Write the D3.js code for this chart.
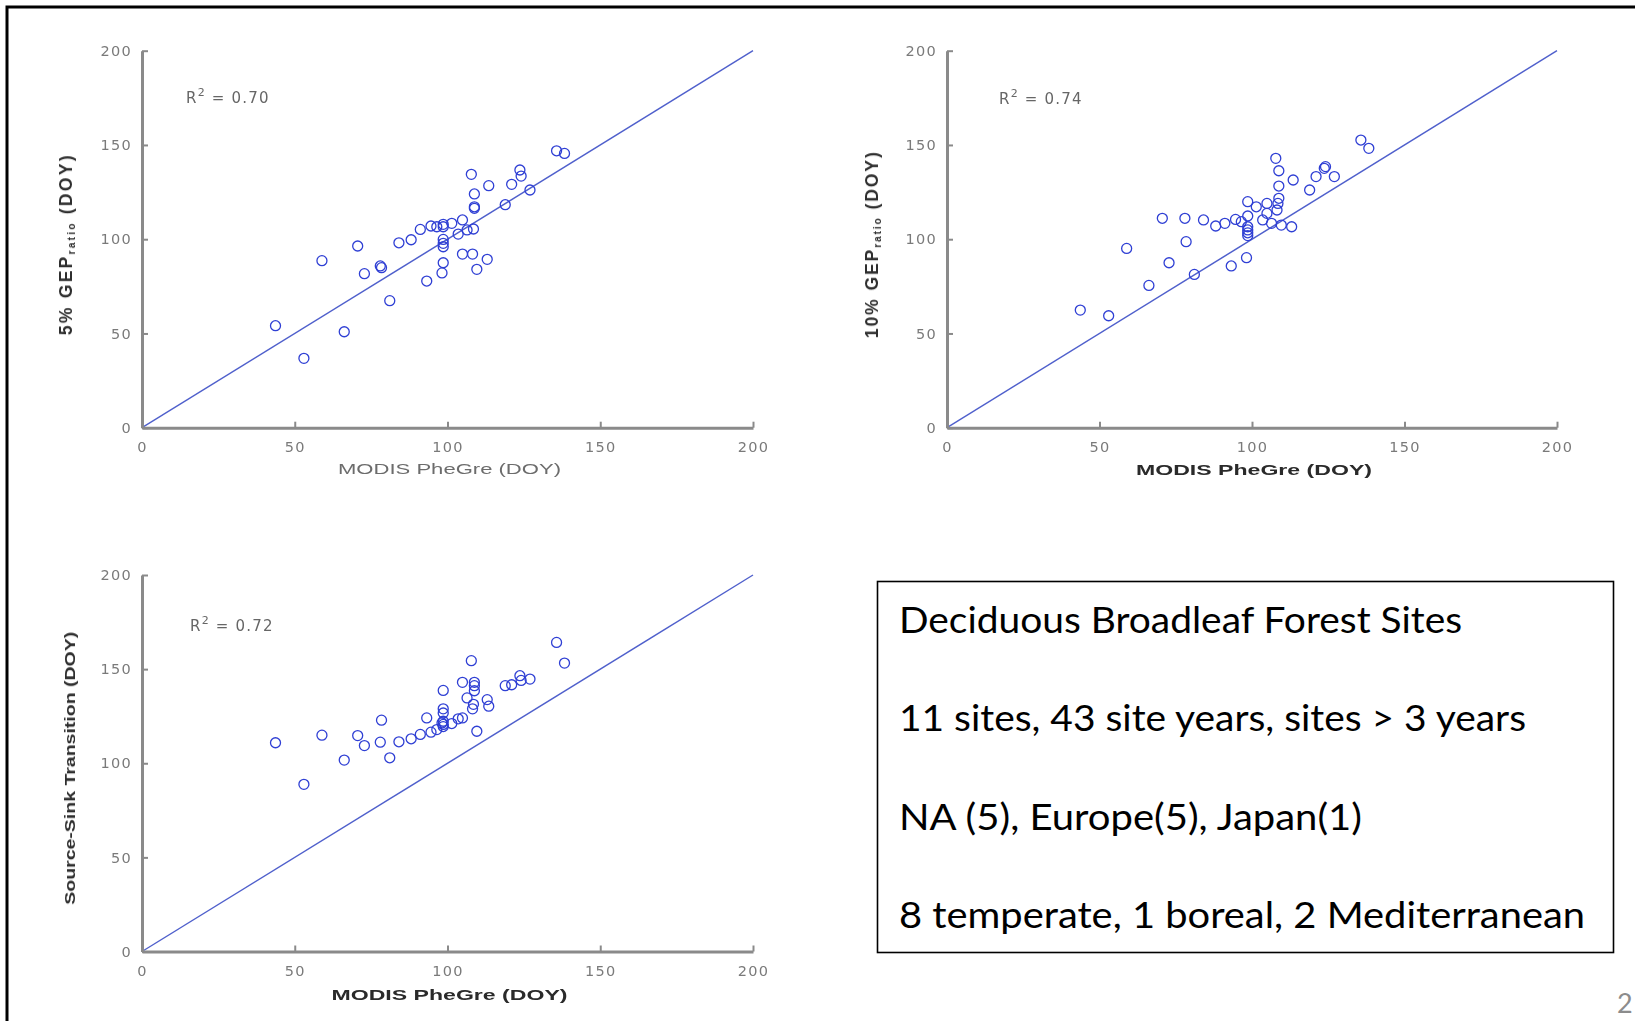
<!DOCTYPE html>
<html>
<head>
<meta charset="utf-8">
<script src="https://cdn.jsdelivr.net/npm/d3@7"></script>
<style>
  body { margin: 0; background: #ffffff; }
  svg { display: block; }
</style>
</head>
<body>
<svg id="fig" width="1635" height="1021"></svg>
<script>
// MODIS green-up date for each of the 43 site-years (day of year)
const modisDoy = [43.7, 53.0, 58.9, 66.2, 70.6, 72.8, 78.0, 78.4, 81.1, 84.1, 88.1, 91.1, 93.2, 94.6, 96.5, 98.2,
  98.6, 98.6, 98.6, 98.6, 98.6, 98.6, 101.4, 103.5, 104.9, 104.9, 106.4, 107.8, 108.2, 108.5, 108.8, 108.8, 108.8,
  109.6, 113.0, 113.5, 118.9, 121.0, 123.7, 124.1, 127.0, 135.7, 138.3];

// Flux-tower derived spring onset, same site-year order
const gep5Doy = [54.1, 36.8, 88.6, 50.9, 96.4, 81.7, 85.8, 84.9, 67.4, 98.1, 99.7, 105.2, 77.8, 107.0, 106.6, 82.1,
  106.6, 107.9, 99.9, 97.8, 96.0, 87.5, 108.4, 102.7, 110.2, 92.1, 104.9, 134.4, 92.1, 105.4, 124.0, 117.2, 116.4,
  84.0, 89.3, 128.4, 118.3, 129.1, 136.7, 133.5, 126.1, 146.9, 145.5];

const gep10Doy = [62.4, 59.4, 95.1, 75.5, 111.1, 87.5, 111.1, 98.7, 81.3, 110.2, 107.0, 108.4, 85.8, 110.5, 109.3, 90.2,
  106.6, 103.4, 101.9, 104.9, 119.9, 112.3, 117.2, 110.2, 119.0, 113.7, 108.4, 142.9, 115.5, 119.0, 136.3, 128.2, 121.7,
  107.5, 106.6, 131.4, 126.1, 133.2, 137.6, 138.5, 133.2, 152.6, 148.2];

const sinkDoy = [110.9, 88.8, 114.9, 101.7, 114.7, 109.4, 111.2, 122.9, 102.9, 111.4, 113.0, 115.3, 124.1, 116.5, 117.9, 121.4,
  128.9, 126.7, 122.3, 120.6, 138.7, 119.5, 121.1, 123.6, 143.0, 124.1, 134.7, 154.5, 128.9, 131.3, 143.0, 141.2, 138.5,
  117.0, 133.8, 130.3, 141.2, 141.7, 146.5, 144.0, 144.7, 164.2, 153.2];

const r2Values = ["0.70", "0.74", "0.72"];
const axisTicks = [0, 50, 100, 150, 200];
const xTitle = "MODIS PheGre (DOY)";

const infoLines = [
  "Deciduous Broadleaf Forest Sites",
  "11 sites, 43 site years, sites > 3 years",
  "NA (5), Europe(5), Japan(1)",
  "8 temperate, 1 boreal, 2 Mediterranean"
];

const svg = d3.select("#fig");

// slight softening used for the raster-looking plot panels
const defs = svg.append("defs");
defs.append("filter").attr("id", "soft")
  .attr("x", "-5%").attr("y", "-5%").attr("width", "110%").attr("height", "110%")
  .append("feGaussianBlur").attr("stdDeviation", 0.6);

// slide frame
svg.append("path")
  .attr("d", "M7,1030 V7 H1645")
  .attr("fill", "none").attr("stroke", "#000").attr("stroke-width", 3);

const panels = [
  { y: gep5Doy, r2: r2Values[0], left: 142, right: 753, top: 50.7, bottom: 427.7,
    yLabel: ["5% GEP", "ratio", " (DOY)"], yLabelX: 67, yLabelLen: 182, xBold: false, xLabelY: 470,
    r2x: 186, r2y: 103 },
  { y: gep10Doy, r2: r2Values[1], left: 947, right: 1557, top: 50.7, bottom: 427.7,
    yLabel: ["10% GEP", "ratio", " (DOY)"], yLabelX: 873, yLabelLen: 188, xBold: true, xLabelY: 471,
    r2x: 999, r2y: 104 },
  { y: sinkDoy, r2: r2Values[2], left: 142, right: 753, top: 575, bottom: 951.5,
    yLabel: ["Source-Sink Transition (DOY)"], yLabelX: 71, yLabelLen: 273, xBold: true, xLabelY: 996,
    r2x: 190, r2y: 631 }
];

const axisColor = "#8a8a8a";
const tickTextColor = "#7a7a7a";
const markBlue = "#2f3fd4";

panels.forEach(p => {
  const g = svg.append("g").attr("filter", "url(#soft)");
  const x = d3.scaleLinear().domain([0, 200]).range([p.left, p.right]);
  const y = d3.scaleLinear().domain([0, 200]).range([p.bottom, p.top]);

  // 1:1 line
  g.append("line")
    .attr("x1", x(0)).attr("y1", y(0)).attr("x2", x(200)).attr("y2", y(200))
    .attr("stroke", "#5060cc").attr("stroke-width", 1.4);

  // axes with inward ticks
  const gx = g.append("g").attr("transform", `translate(0,${y(0)})`)
    .call(d3.axisBottom(x).tickValues(axisTicks).tickSizeInner(-6).tickSizeOuter(0).tickPadding(11));
  const gy = g.append("g").attr("transform", `translate(${x(0)},0)`)
    .call(d3.axisLeft(y).tickValues(axisTicks).tickSizeInner(-6).tickSizeOuter(0).tickPadding(10));
  [gx, gy].forEach(a => {
    a.select(".domain").attr("stroke", axisColor).attr("stroke-width", 3);
    a.selectAll(".tick line").attr("stroke", axisColor).attr("stroke-width", 2);
    a.selectAll(".tick text")
      .attr("fill", tickTextColor)
      .style("font-family", "'DejaVu Sans', sans-serif")
      .style("font-size", "14.5px")
      .style("letter-spacing", "1.3px");
  });
  gx.selectAll(".tick text").attr("dy", "0.9em");

  // site-year markers
  g.append("g").selectAll("circle")
    .data(modisDoy.map((d, i) => [d, p.y[i]]))
    .join("circle")
    .attr("cx", d => x(d[0])).attr("cy", d => y(d[1]))
    .attr("r", 5)
    .attr("fill", "none").attr("stroke", markBlue).attr("stroke-width", 1.3);

  // R² annotation
  const r2 = g.append("text")
    .attr("x", p.r2x).attr("y", p.r2y)
    .attr("fill", "#666")
    .style("font-family", "'DejaVu Sans', sans-serif")
    .style("font-size", "15px")
    .style("letter-spacing", "1.2px");
  r2.append("tspan").text("R");
  r2.append("tspan").attr("dy", -7).style("font-size", "11px").text("2");
  r2.append("tspan").attr("dy", 7).text(" = " + p.r2);

  // x axis title
  g.append("text")
    .attr("x", (p.left + p.right) / 2 + 2).attr("y", p.xLabelY)
    .attr("text-anchor", "middle").attr("dominant-baseline", "middle")
    .attr("textLength", p.xBold ? 236 : 223).attr("lengthAdjust", "spacingAndGlyphs")
    .attr("fill", p.xBold ? "#2a2a2a" : "#6c6c6c")
    .style("font-family", "'Liberation Sans', Arial, sans-serif")
    .style("font-size", "15.5px")
    .style("font-weight", p.xBold ? "bold" : "normal")
    .text(xTitle);

  // y axis title (rotated)
  const cy = (p.top + p.bottom) / 2 + 5;
  const yt = g.append("text")
    .attr("transform", `translate(${p.yLabelX},${cy}) rotate(-90)`)
    .attr("text-anchor", "middle").attr("dominant-baseline", "middle")
    .attr("fill", "#2e2e2e")
    .style("font-family", "'Liberation Sans', Arial, sans-serif")
    .style("font-size", p.yLabel.length > 1 ? "17.5px" : "15.5px")
    .style("font-weight", "bold");
  yt.append("tspan").text(p.yLabel[0]);
  if (p.yLabel.length > 1) {
    yt.append("tspan").attr("dy", 5).style("font-size", "10px").text(p.yLabel[1]);
    yt.append("tspan").attr("dy", -5).text(p.yLabel[2]);
  }
  const len = yt.node().getComputedTextLength();
  if (p.yLabel.length === 1) {
    yt.attr("textLength", p.yLabelLen).attr("lengthAdjust", "spacingAndGlyphs");
  } else {
    const sp = Math.max(0, (p.yLabelLen - len) / (p.yLabel.join("").length));
    yt.style("letter-spacing", sp + "px");
  }
});

// information box
const box = svg.append("g");
box.append("rect")
  .attr("x", 877.5).attr("y", 581.5).attr("width", 736).attr("height", 371)
  .attr("fill", "#fff").attr("stroke", "#000").attr("stroke-width", 1.6);

const lineWidths = [563, 627, 463, 686];
box.selectAll("text.info")
  .data(infoLines)
  .join("text")
  .attr("class", "info")
  .attr("x", 899)
  .attr("y", (d, i) => 633 + i * 98.3)
  .attr("textLength", (d, i) => lineWidths[i])
  .attr("lengthAdjust", "spacingAndGlyphs")
  .attr("fill", "#000")
  .style("font-family", "Lato, 'Open Sans', sans-serif")
  .style("font-size", "36px")
  .text(d => d);

// slide number at the lower right corner
svg.append("text")
  .attr("x", 1617).attr("y", 1012.5)
  .attr("fill", "#8c8c8c")
  .style("font-family", "Lato, 'Open Sans', sans-serif")
  .style("font-size", "27px")
  .text("2");
</script>
</body>
</html>
